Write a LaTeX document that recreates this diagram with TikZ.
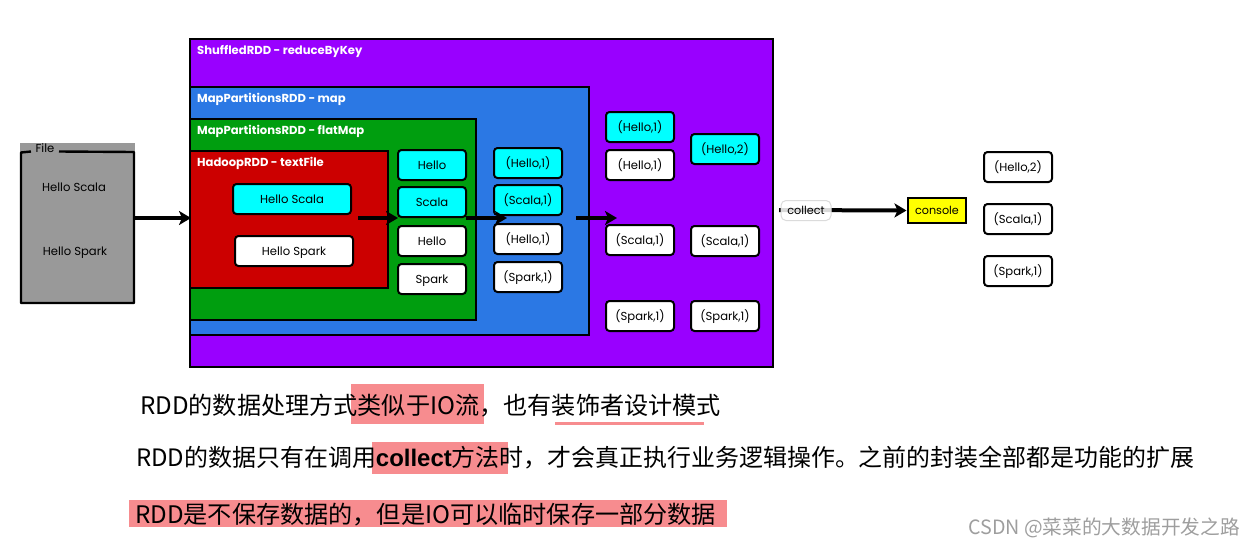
\documentclass[tikz,border=0pt]{standalone}
\usepackage{fontspec}
\setmainfont{Poppins}
\newfontfamily\cjk{Noto Sans CJK SC}
\newfontfamily\lat{Liberation Sans}
\usetikzlibrary{arrows.meta}
\definecolor{hlcolor}{HTML}{F78C8F}
\definecolor{spurple}{HTML}{9900FF}
\definecolor{sblue}{HTML}{2B78E4}
\definecolor{sgreen}{HTML}{009E0F}
\definecolor{sred}{HTML}{CC0000}
\definecolor{sgrey}{HTML}{999999}
\definecolor{scyan}{HTML}{00FFFF}
\definecolor{syellow}{HTML}{FFFF00}
\tikzset{
  layer/.style={draw=black,line width=2.6pt,anchor=north west,inner sep=0pt,outer sep=0pt},
  layertitle/.style={anchor=west,text=white,font=\fontsize{11.6}{13}\selectfont\bfseries,inner sep=0pt},
  item/.style={draw=black,line width=2pt,rounded corners=3.5pt,anchor=north west,inner sep=0pt,outer sep=0pt,
    minimum width=68pt,minimum height=30pt,font=\fontsize{11.6}{13}\selectfont,text=black,text height=10.5pt,text depth=2.5pt},
  cyanitem/.style={item,fill=scyan},
  whiteitem/.style={item,fill=white},
  flow/.style={line width=4pt,draw=black,-{Stealth[length=12pt,width=14pt,inset=3pt]}},
  para/.style={anchor=base west,inner sep=0pt,font=\cjk\fontsize{24.15}{28}\selectfont,text=black},
  hl/.style={fill=hlcolor,draw=none,anchor=north west,inner sep=0pt,outer sep=0pt},
  plain/.style={font=\fontsize{11.6}{13}\selectfont,text=black,inner sep=0pt,text height=10.5pt,text depth=2.5pt}
}
\begin{document}
\begin{tikzpicture}[x=1pt,y=-1pt]
\useasboundingbox (0,0) rectangle (1254,547);
% file
\node[fill=sgrey,anchor=north west,inner sep=0pt,outer sep=0pt,minimum width=115pt,minimum height=161pt] (file) at (20,143) {};
\draw[line width=2.4pt,line join=round] (31,151.5) -- (21,152.5) -- (21,303) -- (134,303) -- (134,152) -- (59,151.5);
\node[plain] (filelabel) at (45,148) {File};
\node[plain] (fileline1) at (74,187) {Hello Scala};
\node[plain] (fileline2) at (75,251) {Hello Spark};
% layers
\node[layer,fill=spurple,minimum width=583pt,minimum height=328pt] (shuffled) at (190,39) {};
\node[layer,fill=sblue,minimum width=399pt,minimum height=248pt] (mapl) at (190,87) {};
\node[layer,fill=sgreen,minimum width=286pt,minimum height=201pt] (flatl) at (190,119) {};
\node[layer,fill=sred,minimum width=198pt,minimum height=137pt] (hadoop) at (190,151) {};
\node[layertitle] (t1) at (197,51.5) {ShuffledRDD - reduceByKey};
\node[layertitle] (t2) at (197,99.5) {MapPartitionsRDD - map};
\node[layertitle] (t3) at (197,131.5) {MapPartitionsRDD - flatMap};
\node[layertitle] (t4) at (197,163) {HadoopRDD - textFile};
% hadoop items
\node[cyanitem,minimum width=118pt] (hs1) at (233,184) {Hello Scala};
\node[whiteitem,minimum width=118pt] (hs2) at (235,236) {Hello Spark};
% column 1
\node[cyanitem] (a1) at (398,150) {Hello};
\node[cyanitem] (a2) at (398,187) {Scala};
\node[whiteitem] (a3) at (398,226) {Hello};
\node[whiteitem] (a4) at (398,264) {Spark};
% column 2
\node[cyanitem] (b1) at (494,148) {(Hello,1)};
\node[cyanitem] (b2) at (494,185) {(Scala,1)};
\node[whiteitem] (b3) at (494,224) {(Hello,1)};
\node[whiteitem] (b4) at (494,262) {(Spark,1)};
% column 3
\node[cyanitem] (c1) at (606,112) {(Hello,1)};
\node[whiteitem] (c2) at (606,150) {(Hello,1)};
\node[whiteitem] (c3) at (606,225) {(Scala,1)};
\node[whiteitem] (c4) at (606,301) {(Spark,1)};
% column 4
\node[cyanitem] (d1) at (691,134) {(Hello,2)};
\node[whiteitem] (d2) at (691,226) {(Scala,1)};
\node[whiteitem] (d3) at (691,301) {(Spark,1)};
% column 5
\node[whiteitem] (e1) at (984,152) {(Hello,2)};
\node[whiteitem] (e2) at (984,204) {(Scala,1)};
\node[whiteitem] (e3) at (984,256) {(Spark,1)};
% console and collect arrow
\node[draw=black,fill=syellow,line width=2.6pt,anchor=north west,inner sep=0pt,outer sep=0pt,
  minimum width=58pt,minimum height=25pt,font=\fontsize{11.2}{13}\selectfont,text height=10pt,text depth=2.5pt] (console) at (908,198) {console};
\coordinate (collectl) at (779,210);
\draw[flow,shorten >=1.5pt] (collectl) -- (console.west);
\node[draw=black!14,fill=white,fill opacity=0.85,text opacity=1,line width=1pt,rounded corners=5pt,anchor=north west,inner sep=0pt,outer sep=0pt,
  minimum width=50pt,minimum height=20pt,font=\fontsize{11.2}{13}\selectfont,text height=10pt,text depth=2.5pt] (collect) at (781,200.5) {collect};
% arrows
\coordinate (p1s) at (358,218);\coordinate (p1e) at (398,218);
\coordinate (p2s) at (466,218);\coordinate (p2e) at (507,218);
\coordinate (p3s) at (576,218);\coordinate (p3e) at (617,218);
\coordinate (filer) at (135,218);\coordinate (hadl) at (191,218);
\draw[flow] (filer) -- (hadl);
\draw[flow] (p1s) -- (p1e);
\draw[flow] (p2s) -- (p2e);
\draw[flow] (p3s) -- (p3e);
% highlights
\node[hl,minimum width=133pt,minimum height=40pt] (h1) at (351,384) {};
\node[hl,minimum width=136pt,minimum height=32pt] (h2) at (372,442) {};
\node[hl,minimum width=598pt,minimum height=27pt] (h3) at (129,500) {};
\fill[hlcolor] (555,421.5) rectangle (704,424.5);
% paragraphs
\node[para] (l1) at (140,414) {RDD的数据处理方式类似于IO流，也有装饰者设计模式};
\node[para,font=\cjk\fontsize{23.95}{28}\selectfont] (l2) at (136,466) {RDD的数据只有在调用{\lat\bfseries collect}方法时，才会真正执行业务逻辑操作。之前的封装全部都是功能的扩展};
\node[para] (l3) at (135,523) {RDD是不保存数据的，但是IO可以临时保存一部分数据};
\node[anchor=base west,inner sep=0pt,font=\cjk\fontsize{19.7}{23}\selectfont,text=black!38] (wm) at (968,534) {CSDN @菜菜的大数据开发之路};
\end{tikzpicture}
\end{document}
